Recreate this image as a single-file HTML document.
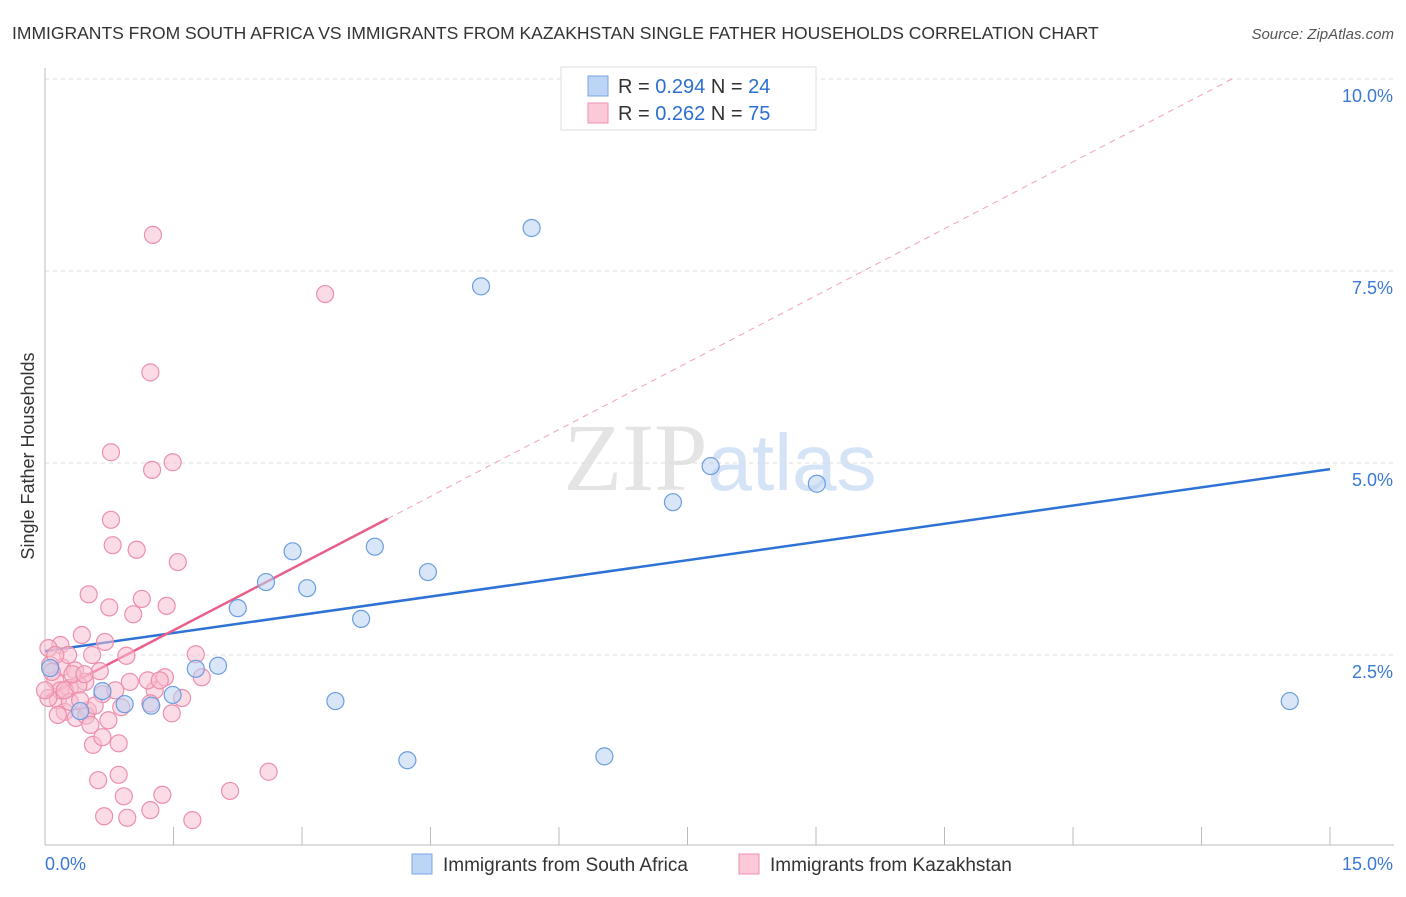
<!DOCTYPE html>
<html><head><meta charset="utf-8"><style>
body{margin:0;background:#fff;font-family:"Liberation Sans",sans-serif;}
svg text{font-family:"Liberation Sans",sans-serif;}
</style></head><body>
<svg id="chart" width="1406" height="892" xmlns="http://www.w3.org/2000/svg">
<text x="12" y="39" font-size="17.5" fill="#333">IMMIGRANTS FROM SOUTH AFRICA VS IMMIGRANTS FROM KAZAKHSTAN SINGLE FATHER HOUSEHOLDS CORRELATION CHART</text>
<text x="1394" y="39" font-size="15" fill="#555" text-anchor="end" font-style="italic">Source: ZipAtlas.com</text>
<text x="720" y="490" font-size="96" text-anchor="middle" fill="#e4e4e4"><tspan font-family="Liberation Serif">ZIP</tspan><tspan fill="#d4e3f5" font-size="80">atlas</tspan></text>
<g id="grid"></g>
<g id="axes"></g>
<g id="lines"></g>
<g id="pts"></g>
<text transform="translate(34,456) rotate(-90)" font-size="18" fill="#333" text-anchor="middle">Single Father Households</text>
<g>
<rect x="561" y="67" width="255" height="63" fill="#fff" stroke="#ddd"/>
<rect x="588" y="76" width="20" height="20" fill="#bcd4f5" stroke="#7aa6e0"/>
<rect x="588" y="103" width="20" height="20" fill="#fbc9d7" stroke="#ee92ae"/>
<text x="618" y="93" font-size="20" fill="#333">R = <tspan fill="#2d6fd0">0.294</tspan>   N = <tspan fill="#2d6fd0">24</tspan></text>
<text x="618" y="120" font-size="20" fill="#333">R = <tspan fill="#2d6fd0">0.262</tspan>   N = <tspan fill="#2d6fd0">75</tspan></text>
</g>
<g>
<rect x="412" y="854" width="20" height="20" fill="#bcd4f5" stroke="#7aa6e0"/>
<text x="443" y="871" font-size="19" fill="#333">Immigrants from South Africa</text>
<rect x="739" y="854" width="20" height="20" fill="#fbc9d7" stroke="#ee92ae"/>
<text x="770" y="871" font-size="19" fill="#333">Immigrants from Kazakhstan</text>
</g>
</svg>
<script>
const blueX=[5.68,5.09,7.77,9.01,7.33,2.89,3.85,2.58,3.06,4.47,2.25,3.69,2.02,1.76,0.67,1.49,0.93,1.24,3.39,4.23,6.53,14.53,0.06,0.41];
const blueY=[8.06,7.30,4.96,4.73,4.49,3.85,3.91,3.45,3.37,3.58,3.11,2.97,2.36,2.32,2.03,1.98,1.86,1.84,1.90,1.13,1.18,1.90,2.33,1.77];
const pinkX=[1.26,3.27,1.23,0.77,1.25,1.49,0.77,0.79,1.07,1.55,0.51,0.75,1.13,1.42,1.03,0.43,0.70,0.55,0.95,1.76,0.64,1.40,0.99,0.20,0.35,0.06,0.12,0.29,0.47,0.67,1.28,1.23,0.89,0.15,0.23,0.50,0.36,0.48,1.48,1.60,1.83,0.56,0.86,0.67,0.62,0.86,0.92,1.37,0.69,0.96,1.23,1.72,2.16,2.61,0.18,0.04,0.29,0.58,0.08,0.23,0.39,0.53,0.74,0.18,1.20,1.34,0.82,0.27,0.04,0.12,0.41,0.00,0.32,0.15,0.46];
const pinkY=[7.97,7.20,6.18,5.14,4.91,5.01,4.26,3.93,3.87,3.71,3.29,3.12,3.23,3.14,3.03,2.76,2.67,2.50,2.49,2.51,2.29,2.21,2.15,2.34,2.30,2.37,2.17,2.07,2.15,1.99,2.04,1.87,1.82,1.91,1.76,1.78,1.68,1.71,1.74,1.94,2.21,1.33,1.35,1.43,0.87,0.94,0.66,0.68,0.40,0.38,0.48,0.35,0.73,0.98,2.04,1.94,1.89,1.84,2.28,2.04,2.11,1.59,1.65,2.63,2.17,2.17,2.04,2.50,2.59,2.50,1.91,2.04,2.25,1.72,2.25];
const yTicks=[2.5,5.0,7.5,10.0];
const xTickLabels=["0.0%","15.0%"];
const blueTrend=[2.55,4.92]; // y at x=0 and x=15
const pinkTrend=[1.95,0.581]; // intercept, slope
const pinkSolidEnd=4.0;
const X=v=>45+v/15*1285, Y=v=>847-v/2.5*192;
const NS="http://www.w3.org/2000/svg";
function mk(p,t,a){const e=document.createElementNS(NS,t);for(const k in a)e.setAttribute(k,a[k]);p.appendChild(e);return e;}
const grid=document.getElementById('grid'),axes=document.getElementById('axes'),lines=document.getElementById('lines'),pts=document.getElementById('pts');
yTicks.forEach(t=>{const l=mk(grid,'line',{x1:45,x2:1394,y1:Y(t),y2:Y(t),stroke:'#ddd','stroke-dasharray':'4,4'});


const tx=mk(grid,'text',{x:1393,y:Y(t)+23,'font-size':18,fill:'#3a78d4','text-anchor':'end'});tx.textContent=t.toFixed(1)+'%';

});
mk(axes,'line',{x1:45,x2:45,y1:68,y2:845,stroke:'#bbb'});
mk(axes,'line',{x1:45,x2:1394,y1:845,y2:845,stroke:'#bbb'});
for(let i=0;i<=10;i++){const x=X(i*1.5);mk(axes,'line',{x1:x,x2:x,y1:827,y2:845,stroke:'#bbb'});}
[[0,'start',45],[1,'end',1393]].forEach(([i,a,x])=>{const t=mk(axes,'text',{x:x,y:870,'font-size':18,fill:'#3a78d4','text-anchor':a});t.textContent=xTickLabels[i];

});
function dots(xs,ys,fill,stroke,name){xs.forEach((v,i)=>{const c=mk(pts,'circle',{cx:X(v),cy:Y(ys[i]),r:8.5,fill:fill,'fill-opacity':0.55,stroke:stroke,'stroke-width':1.2});

});}
dots(pinkX,pinkY,'#f8bdd0','#ec8fac','kazakhstan-point');
dots(blueX,blueY,'#b9d2f3','#6b9ee0','south-africa-point');
const bl=mk(lines,'line',{x1:X(0),y1:Y(blueTrend[0]),x2:X(15),y2:Y(blueTrend[1]),stroke:'#2f72d6','stroke-width':2.5});


const pxEnd=(10-pinkTrend[0])/pinkTrend[1];
const pd=mk(lines,'line',{x1:X(pinkSolidEnd),y1:Y(pinkTrend[0]+pinkTrend[1]*pinkSolidEnd),x2:X(pxEnd),y2:Y(10),stroke:'#f0a0b8','stroke-width':1,'stroke-dasharray':'6,5'});


const pl=mk(lines,'line',{x1:X(0),y1:Y(pinkTrend[0]),x2:X(pinkSolidEnd),y2:Y(pinkTrend[0]+pinkTrend[1]*pinkSolidEnd),stroke:'#e8608a','stroke-width':2.5});


</script>
</body></html>
